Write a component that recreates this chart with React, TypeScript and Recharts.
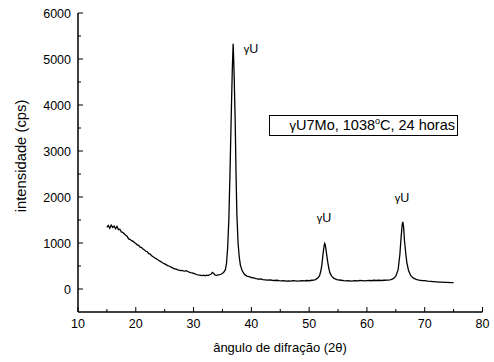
import React from "react";
import { LineChart, Line, XAxis, YAxis, ReferenceDot } from "recharts";

// 2θ (degrees)
const angle = [
  15.0, 15.25, 15.5, 15.75, 16.0, 16.25, 16.5, 16.75, 17.0, 17.25, 17.5, 17.75,
  18.0, 18.25, 18.5, 18.75, 19.0, 19.25, 19.5, 19.75, 20.0, 20.25, 20.5, 20.75,
  21.0, 21.25, 21.5, 21.75, 22.0, 22.25, 22.5, 22.75, 23.0, 23.25, 23.5, 23.75,
  24.0, 24.25, 24.5, 24.75, 25.0, 25.25, 25.5, 25.75, 26.0, 26.25, 26.5, 26.75,
  27.0, 27.25, 27.5, 27.75, 28.0, 28.25, 28.5, 28.75, 29.0, 29.25, 29.5, 29.75,
  30.0, 30.25, 30.5, 30.75, 31.0, 31.25, 31.5, 31.75, 32.0, 32.25, 32.5, 32.75,
  33.0, 33.25, 33.5, 33.75, 34.0, 34.25, 34.5, 34.75, 35.0, 35.25, 35.5,
  35.7, 35.9, 36.1, 36.3, 36.5, 36.7, 36.85, 37.0, 37.2, 37.35, 37.5, 37.7,
  37.9, 38.1, 38.4, 38.8, 39.2, 39.6,
  40.0, 40.4, 40.8, 41.2, 41.6, 42.0, 42.4, 42.8, 43.2, 43.6, 44.0, 44.4,
  44.8, 45.2, 45.6, 46.0, 46.4, 46.8, 47.2, 47.6, 48.0, 48.4, 48.8, 49.2,
  49.6, 50.0, 50.5, 51.0, 51.5, 51.8, 52.0, 52.2, 52.4, 52.6, 52.7, 52.8,
  53.0, 53.2, 53.4, 53.6, 53.9, 54.3, 54.8, 55.5, 56.0, 56.4, 56.8, 57.2,
  57.6, 58.0, 58.4, 58.8, 59.2, 59.6, 60.0, 60.4, 60.8, 61.2, 61.6, 62.0,
  62.5, 63.0, 63.5, 64.0, 64.5, 65.0, 65.4, 65.7, 65.9, 66.1, 66.2, 66.35,
  66.5, 66.7, 66.9, 67.2, 67.6, 68.0, 68.5, 69.0, 69.5, 70.0, 70.5, 71.0,
  71.5, 72.0, 72.5, 73.0, 73.5, 74.0, 74.5, 75.0,
];

// intensity (cps)
const counts = [
  1340, 1380, 1320, 1390, 1340, 1370, 1310, 1360, 1290, 1300, 1240, 1230,
  1200, 1170, 1150, 1090, 1080, 1050, 1040, 1010, 990, 960, 950, 910,
  900, 870, 850, 820, 810, 770, 760, 720, 700, 680, 660, 640,
  620, 600, 580, 560, 545, 530, 510, 500, 480, 470, 450, 440,
  430, 415, 410, 400, 405, 395, 390, 400, 380, 365, 355, 350,
  340, 330, 315, 305, 300, 295, 290, 300, 285, 300, 290, 310,
  320, 360, 335, 300, 295, 305, 310, 320, 340, 370, 420,
  560, 900, 1500, 2500, 3670, 4760, 5330, 4760, 3670, 2500, 1600, 1000,
  700, 520, 400, 320, 280, 270,
  250, 240, 225, 215, 220, 205, 200, 195, 200, 190, 185, 190,
  180, 175, 180, 170, 175, 170, 180, 175, 170, 175, 180, 175,
  185, 180, 190, 200, 240, 290, 380, 520, 760, 950, 990, 960,
  780, 600, 450, 350, 280, 230, 205, 190, 180, 175, 180, 170,
  175, 180, 175, 185, 180, 175, 180, 185, 180, 190, 185, 190,
  185, 190, 195, 200, 220, 280, 420, 750, 1100, 1400, 1460, 1350,
  1050, 800, 580, 400, 290, 240, 210, 195, 185, 180, 170, 165,
  160, 155, 150, 150, 145, 145, 140, 140,
];

const xTicks = [10, 15, 20, 25, 30, 35, 40, 45, 50, 55, 60, 65, 70, 75, 80];
const xLabels = [10, 20, 30, 40, 50, 60, 70, 80];
const yTicks = [0, 500, 1000, 1500, 2000, 2500, 3000, 3500, 4000, 4500, 5000, 5500, 6000];
const yLabels = [0, 1000, 2000, 3000, 4000, 5000, 6000];

const peakLabels = [
  { x: 38.7, y: 5220, text: "U" },
  { x: 51.3, y: 1540, text: "U" },
  { x: 64.8, y: 1980, text: "U" },
];

const data = angle.map((a, i) => ({ x: a, y: counts[i] }));

const FONT = "'Liberation Sans', Arial, sans-serif";

const BottomTick = (props: any) => {
  const { x, y, payload } = props;
  const major = xLabels.includes(payload.value);
  return (
    <g>
      <line x1={x} y1={y} x2={x} y2={y - (major ? 5 : 3)} stroke="#000" strokeWidth={1} />
      {major && (
        <text x={x} y={y + 16} textAnchor="middle" fontSize={12.5} fontFamily={FONT} fill="#000">
          {payload.value}
        </text>
      )}
    </g>
  );
};

const TopTick = (props: any) => {
  const { x, y, payload } = props;
  const major = xLabels.includes(payload.value);
  return <line x1={x} y1={y} x2={x} y2={y + (major ? 5 : 3)} stroke="#000" strokeWidth={1} />;
};

const LeftTick = (props: any) => {
  const { x, y, payload } = props;
  const major = yLabels.includes(payload.value);
  return (
    <g>
      <line x1={x} y1={y} x2={x + (major ? 5 : 3)} y2={y} stroke="#000" strokeWidth={1} />
      {major && (
        <text x={x - 7} y={y + 4.5} textAnchor="end" fontSize={12.5} fontFamily={FONT} fill="#000">
          {payload.value}
        </text>
      )}
    </g>
  );
};

const RightTick = (props: any) => {
  const { x, y, payload } = props;
  const major = yLabels.includes(payload.value);
  return <line x1={x} y1={y} x2={x - (major ? 5 : 3)} y2={y} stroke="#000" strokeWidth={1} />;
};

const PeakLabel = (props: any) => {
  const { viewBox, text } = props;
  return (
    <text x={viewBox.x} y={viewBox.y} dominantBaseline="central" fontFamily={FONT} fill="#000">
      <tspan fontSize={11}>γ</tspan>
      <tspan fontSize={12.5}>{text}</tspan>
    </text>
  );
};

export default function App() {
  return (
    <div style={{ position: "absolute", left: 0, top: 0, width: 494, height: 362, background: "#fff" }}>
      <LineChart width={494} height={362} data={data} margin={{ top: 13, right: 11.5, bottom: 0, left: 0 }}>
        <XAxis
          xAxisId="b"
          type="number"
          dataKey="x"
          domain={[10, 80]}
          ticks={xTicks}
          interval={0}
          height={50}
          tickSize={0}
          tickMargin={0}
          tickLine={false}
          tick={<BottomTick />}
          axisLine={{ stroke: "#000", strokeWidth: 1.5 }}
        />
        <XAxis
          xAxisId="t"
          orientation="top"
          type="number"
          dataKey="x"
          domain={[10, 80]}
          ticks={xTicks}
          interval={0}
          height={0}
          tickSize={0}
          tickMargin={0}
          tickLine={false}
          tick={<TopTick />}
          axisLine={{ stroke: "#000", strokeWidth: 1.5 }}
        />
        <YAxis
          yAxisId="l"
          type="number"
          domain={[-500, 6000]}
          ticks={yTicks}
          interval={0}
          width={78}
          tickSize={0}
          tickMargin={0}
          tickLine={false}
          tick={<LeftTick />}
          axisLine={{ stroke: "#000", strokeWidth: 1.5 }}
        />
        <YAxis
          yAxisId="r"
          orientation="right"
          type="number"
          domain={[-500, 6000]}
          ticks={yTicks}
          interval={0}
          width={0}
          tickSize={0}
          tickMargin={0}
          tickLine={false}
          tick={<RightTick />}
          axisLine={{ stroke: "#000", strokeWidth: 1.5 }}
        />
        <Line
          xAxisId="b"
          yAxisId="l"
          type="linear"
          dataKey="y"
          stroke="#000"
          strokeWidth={1.3}
          dot={false}
          isAnimationActive={false}
        />
        <Line
          xAxisId="t"
          yAxisId="r"
          type="linear"
          dataKey="y"
          stroke="none"
          dot={false}
          isAnimationActive={false}
        />
        {peakLabels.map((p, i) => (
          <ReferenceDot
            key={i}
            xAxisId="b"
            yAxisId="l"
            x={p.x}
            y={p.y}
            r={0}
            fill="none"
            stroke="none"
            label={<PeakLabel text={p.text} />}
          />
        ))}
      </LineChart>
      <div
        style={{
          position: "absolute",
          left: 0,
          top: 156,
          transform: "translate(21px, 0) translate(-50%, -50%) rotate(-90deg)",
          fontFamily: FONT,
          fontSize: 14.8,
          whiteSpace: "nowrap",
          color: "#000",
        }}
      >
        intensidade (cps)
      </div>
      <div
        style={{
          position: "absolute",
          left: 280,
          top: 347,
          transform: "translate(-50%, -50%)",
          fontFamily: FONT,
          fontSize: 13,
          whiteSpace: "nowrap",
          color: "#000",
        }}
      >
        ângulo de difração (2θ)
      </div>
      <div
        style={{
          position: "absolute",
          left: 269,
          top: 115,
          width: 189,
          height: 21,
          boxSizing: "border-box",
          border: "1px solid #000",
          fontFamily: FONT,
          fontSize: 14.5,
          lineHeight: "19px",
          whiteSpace: "nowrap",
          color: "#000",
          textAlign: "right",
          paddingRight: 2,
        }}
      >
        <span style={{ fontSize: 13 }}>γ</span>U7Mo, 1038<sup style={{ fontSize: 9, verticalAlign: "6px", lineHeight: 0 }}>o</sup>C, 24 horas
      </div>
    </div>
  );
}
